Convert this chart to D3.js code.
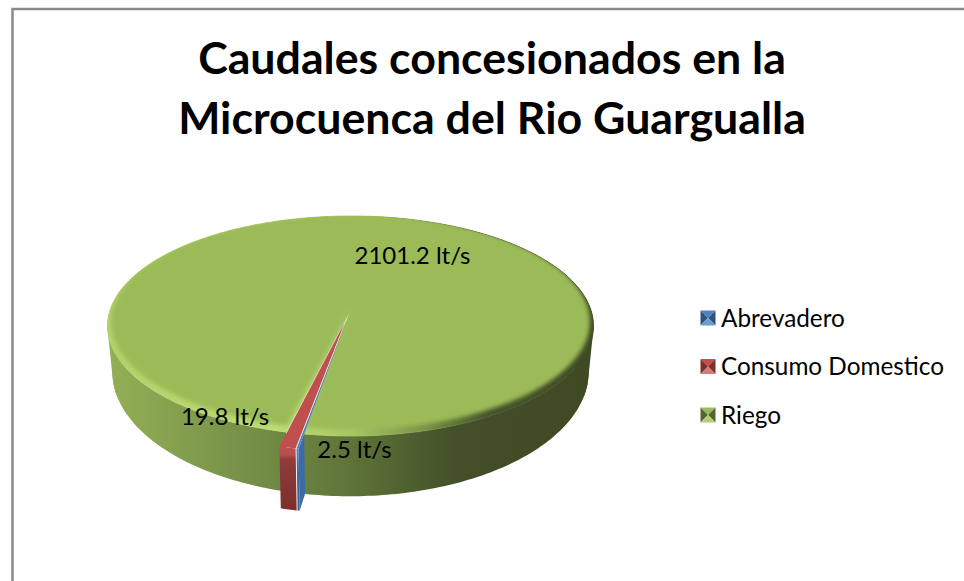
<!DOCTYPE html>
<html>
<head>
<meta charset="utf-8">
<script src="https://cdn.jsdelivr.net/npm/d3@7"></script>
<style>
  html, body { margin: 0; padding: 0; background: #fff; overflow: hidden; }
  text { font-family: Lato, sans-serif; fill: #000; }
</style>
</head>
<body>
<div id="chart"></div>
<script>
// data
const categories = ["Abrevadero", "Consumo Domestico", "Riego"];
const values = [2.5, 19.8, 2101.2];
const labels = ["2.5 lt/s", "19.8 lt/s", "2101.2 lt/s"];
const titleLines = ["Caudales concesionados en la", "Microcuenca del Rio Guargualla"];

const width = 964, height = 581;
const colors = ["#4F81BD", "#C0504D", "#9BBB59"];
const explode = [0.1, 0.1, 0];

const svg = d3.select("#chart").append("svg").attr("width", width).attr("height", height);
const defs = svg.append("defs");

// frame, runs off the right and bottom of the window
svg.append("rect").attr("x", 12.5).attr("y", 9).attr("width", 1000).attr("height", 700)
  .attr("fill", "#fff").attr("stroke", "#8a8a8a").attr("stroke-width", 2.5);

// title
svg.append("g").selectAll("text").data(titleLines).enter().append("text")
  .attr("x", 492).attr("y", (d, i) => 74 + i * 60)
  .attr("text-anchor", "middle").attr("font-weight", 700).attr("font-size", 44.7)
  .text(d => d);

// perspective of the disc: circle in the plane -> screen
const cx = 350.5, apexY = 310, persp = 0.1453, kx = 240.4, ky = 107.7, depth = 44;
function project(a, r, off, z) {
  const X = r * Math.sin(a) + off[0], Y = -r * Math.cos(a) + off[1];
  const w = 1 - persp * Y;
  return [cx + kx * (1 - 0.02 * z) * X / w, apexY + ky * Y / w + z * depth / (w * w)];
}
const line = d3.line();

const startDeg = 189.5;
const pie = d3.pie().sort(null).value(d => d)
  .startAngle(startDeg * Math.PI / 180)
  .endAngle((startDeg + 360) * Math.PI / 180);
const arcs = pie(values).map((d, i) => {
  const mid = (d.startAngle + d.endAngle) / 2;
  return { ...d, i, off: [explode[i] * Math.sin(mid), -explode[i] * Math.cos(mid)] };
});

function rim(d, r, off, z) {
  const n = Math.max(2, Math.ceil((d.endAngle - d.startAngle) * 60));
  return d3.range(n + 1).map(k => project(d.startAngle + (d.endAngle - d.startAngle) * k / n, r, off, z));
}
const topPath = (d, r = 1, off = d.off) => line([project(0, 0, off, 0), ...rim(d, r, off, 0)]) + "Z";
const wallPath = d => line([...rim(d, 1, d.off, 0), ...rim(d, 1, d.off, 1).reverse()]) + "Z";
// straight cut face of a slice at one of its edges
const cutPath = (d, a) => line([project(a, 1, d.off, 0), project(0, 0, d.off, 0), project(0, 0, d.off, 1), project(a, 1, d.off, 1)]) + "Z";
// outline of the disc's flank, so the narrower bottom joins the top without a step
function shoulder(fromDeg, toDeg) {
  const d = { startAngle: fromDeg * Math.PI / 180, endAngle: toDeg * Math.PI / 180 };
  return line(d3.polygonHull([...rim(d, 1, [0, 0], 0), ...rim(d, 1, [0, 0], 1)])) + "Z";
}

// gradients
function hGrad(id, stops) {
  const g = defs.append("linearGradient").attr("id", id).attr("gradientUnits", "userSpaceOnUse")
    .attr("x1", 107).attr("x2", 594).attr("y1", 0).attr("y2", 0);
  stops.forEach(s => g.append("stop").attr("offset", s[0]).attr("stop-color", s[1]));
}
function vGrad(id, stops) {
  const g = defs.append("linearGradient").attr("id", id).attr("x1", 0).attr("x2", 0).attr("y1", 0).attr("y2", 1);
  stops.forEach(s => g.append("stop").attr("offset", s[0]).attr("stop-color", s[1]));
}
hGrad("greenWall", [[0, "#93b056"], [0.12, "#87a350"], [0.35, "#6f8943"], [0.55, "#586c35"], [0.72, "#434f28"], [1, "#3f4a25"]]);
hGrad("greenEdge", [[0, "#b3d26c"], [0.35, "#bcdc74"], [0.5, "#a8c765"], [0.65, "#7b9446"], [0.78, "#47552b"], [1, "#3f4a25"]]);
vGrad("redWall", [[0, "#c0504d"], [0.13, "#b84d4a"], [0.2, "#8f3b39"], [1, "#7b2f2d"]]);
vGrad("blueWall", [[0, "#4f81bd"], [0.15, "#4a7ab3"], [0.25, "#3f6ca3"], [1, "#35608f"]]);
defs.append("filter").attr("id", "soft").attr("x", "-5%").attr("y", "-5%").attr("width", "110%").attr("height", "110%")
  .append("feGaussianBlur").attr("stdDeviation", 2.2);

const [blue, red, green] = arcs;
const pieG = svg.append("g");

// behind the green disc
pieG.append("path").attr("d", cutPath(blue, blue.startAngle)).attr("fill", "#3d6ca5");

// green disc with its light edge
pieG.append("path").attr("d", wallPath(green)).attr("fill", "url(#greenWall)");
[[250, 290], [70, 110]].forEach(s => pieG.append("path").attr("d", shoulder(s[0], s[1])).attr("fill", "url(#greenWall)"));
// keeps the seam along the rim from showing white
pieG.append("path").attr("d", topPath(green)).attr("fill", "url(#greenEdge)")
  .attr("stroke", "url(#greenEdge)").attr("stroke-width", 0.8);
defs.append("clipPath").attr("id", "greenTop").append("path").attr("d", topPath(green));
const greenTop = pieG.append("g").attr("clip-path", "url(#greenTop)");
greenTop.append("path").attr("d", topPath(green, 0.99, [0, -0.035])).attr("fill", colors[2]).attr("filter", "url(#soft)");

// pulled out slices
pieG.append("path").attr("d", wallPath(blue)).attr("fill", "url(#blueWall)");
pieG.append("path").attr("d", topPath(blue)).attr("fill", colors[0]);
pieG.append("path").attr("d", wallPath(red)).attr("fill", "url(#redWall)");
pieG.append("path").attr("d", topPath(red)).attr("fill", colors[1]);

// data labels
const labelX = [354.5, 225, 412.5], labelY = [450, 417, 256];
svg.append("g").selectAll("text").data(labels).enter().append("text")
  .attr("x", (d, i) => labelX[i]).attr("y", (d, i) => labelY[i])
  .attr("dy", "0.35em").attr("text-anchor", "middle").attr("font-size", 24)
  .text(d => d);

// legend
const legendY = d3.scalePoint().domain(categories).range([318, 415]);
const swatch = 15;
const shades = [
  ["#4f81bd", "#2e5482", "#2e5482", "#6d9bd3"],
  ["#c0504d", "#7d2f2d", "#7d2f2d", "#d67a77"],
  ["#9bbb59", "#55682f", "#55682f", "#b2cf78"]
];
const legend = svg.append("g").selectAll("g").data(categories).enter().append("g")
  .attr("transform", d => `translate(700.5,${legendY(d)})`);
legend.each(function(d, i) {
  const s = swatch / 2, g = d3.select(this);
  const tris = [[[-s, -s], [s, -s]], [[-s, -s], [-s, s]], [[s, -s], [s, s]], [[-s, s], [s, s]]];
  tris.forEach((t, k) => g.append("path")
    .attr("d", line([[s, 0], ...[[t[0][0] + s, t[0][1]], [t[1][0] + s, t[1][1]]]]) + "Z")
    .attr("fill", shades[i][k]));
});
legend.append("text").attr("x", 20.5).attr("dy", "0.35em").attr("font-size", 24.3).text(d => d);
</script>
</body>
</html>
